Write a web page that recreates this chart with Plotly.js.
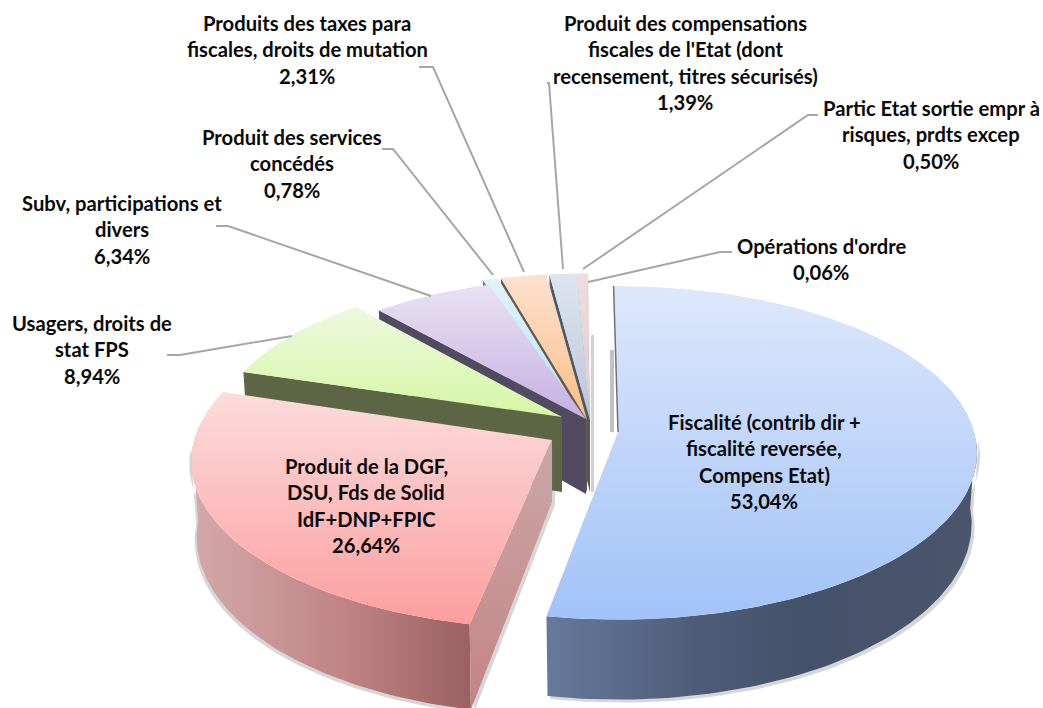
<!DOCTYPE html>
<html><head><meta charset="utf-8">
<script src="https://cdn.plot.ly/plotly-3.0.1.min.js"></script>
<style>html,body{margin:0;padding:0;background:#fff}#c{width:1043px;height:708px}</style>
</head><body><div id="c"></div>
<script>
// ---- data ----
const labels = [
 "Fiscalité (contrib dir +<br>fiscalité reversée,<br>Compens Etat)",
 "Produit de la DGF,<br>DSU, Fds de Solid<br>IdF+DNP+FPIC",
 "Usagers, droits de<br>stat FPS",
 "Subv, participations et<br>divers",
 "Produit des services<br>concédés",
 "Produits des taxes para<br>fiscales, droits de mutation",
 "Produit des compensations<br>fiscales de l'Etat (dont<br>recensement, titres sécurisés)",
 "Partic Etat sortie empr à<br>risques, prdts excep",
 "Opérations d'ordre"
];
const values = [53.04, 26.64, 8.94, 6.34, 0.78, 2.31, 1.39, 0.50, 0.06];
const valueText = ["53,04%","26,64%","8,94%","6,34%","0,78%","2,31%","1,39%","0,50%","0,06%"];

// ---- styles ----
const topTop = ["#dde8fb","#fbdcdc","#eef8e0","#e8e2f3","#e0f3f9","#fbe1cf","#dfe5ee","#ecdfde","#ecdfde"];
const topBot = ["#a2c2f8","#fd9e9e","#d5f7a3","#c4b0e3","#b0e6f6","#fbbf85","#b9c6da","#e5c8c6","#e5c8c6"];
const wallCol = ["#6a7385","#c9a3a3","#5c6644","#524a60","#5f7f88","#6b5a4a","#4f5a68","#8b7f7f","#8b7f7f"];
const apexX = [618,552,562,586,584,587,590,590,590];
const apexY = [432,440,417,419,420,420,420,420,420];
const rimK  = [.995,1,.965,.96,1,1,1,1,1];
const turn  = [-.5,1,.5,0,0,0,0,0,0];
const depth = [70,75,75,75,72,72,72,72,72];
const apexDepth = [70,62,75,75,72,72,72,72,72];
const labelX = [764,366,92,122,292,307,685,931,821];
const labelY = [422,466,323,203,137,23,23,108,246];
const LINE = 26.3;
const leaderX = [null,null,[167,180,292],[216,228,431],[382,393,493],[419,433,524],[547,549,563],[818,808,583],[732,720,588]];
const leaderY = [null,null,[355,355,336],[226,226,296],[149,149,275],[67,67,272],[83,83,269],[115,115,269],[252,252,282]];

// ---- geometry: values -> angles -> projected pie ----
const R = 358, RK = 165, P = .125, ROT = -0.3;
const total = values.reduce((a,b)=>a+b,0);
let acc = 0;
const a1 = [], a2 = [];
values.forEach((v,i)=>{a1.push(acc/total*360+ROT+turn[i]); acc+=v; a2.push(acc/total*360+ROT+turn[i]);});
function rim(i,a){
  const t=a*Math.PI/180, X=Math.sin(t), Y=Math.cos(t), s=1/(1+P*Y);
  return {dx:R*rimK[i]*s*X, dy:-RK*rimK[i]*s*Y, s};
}
function arc(i,b,e,n){const o=[];for(let k=0;k<=n;k++)o.push(b+(e-b)*k/n);return o;}
function poly(xs,ys,grad){
  return {type:'scatter',mode:'lines',x:xs,y:ys,fill:'toself',line:{width:0,color:'rgba(0,0,0,0)'},
    hoverinfo:'skip',showlegend:false,fillgradient:grad};
}
const vgrad=(c0,c1,s,e)=>({type:'vertical',start:s,stop:e,colorscale:[[0,c0],[1,c1]]});
const hgrad=(stops,s,e)=>({type:'horizontal',start:s,stop:e,colorscale:stops});
const traces=[];
function flat(xs,ys,color){traces.push({type:'scatter',mode:'lines',x:xs,y:ys,fill:'toself',fillcolor:color,line:{width:0,color:'rgba(0,0,0,0)'},hoverinfo:'skip',showlegend:false});}

function radialWall(i,a){
  const r=rim(i,a), cx=apexX[i], cy=apexY[i];
  const xs=[cx,cx+r.dx,cx+r.dx*.985,cx], ys=[cy,cy+r.dy,cy+r.dy+depth[i]*r.s,cy+apexDepth[i]];
  return [xs.concat(cx),ys.concat(cy)];
}
function rimWall(i,b,e){
  const cx=apexX[i], cy=apexY[i], as=arc(i,b,e,80);
  const xs=[],ys=[];
  as.forEach(a=>{const r=rim(i,a);xs.push(cx+r.dx);ys.push(cy+r.dy);});
  as.slice().reverse().forEach(a=>{const r=rim(i,a);xs.push(cx+r.dx*.985);ys.push(cy+r.dy+depth[i]*r.s);});
  xs.push(xs[0]);ys.push(ys[0]);
  return [xs,ys];
}
function topFace(i){
  const cx=apexX[i], cy=apexY[i], xs=[cx], ys=[cy];
  arc(i,a1[i],a2[i],Math.max(4,Math.ceil((a2[i]-a1[i])*1.5))).forEach(a=>{const r=rim(i,a);xs.push(cx+r.dx);ys.push(cy+r.dy);});
  xs.push(cx);ys.push(cy);
  return [xs,ys];
}

// faint cast shadows in the gap between the slices
const gapX = apexX[8];
flat([gapX+1,gapX+4,gapX+4,gapX+1],[apexY[8]-85,apexY[8]-85,apexY[8]+72,apexY[8]+72],'rgba(120,120,120,.35)');
const gapB = apexX[0]-3;
flat([gapB-5,gapB-1,gapB-1,gapB-5],[apexY[0]-82,apexY[0]-82,apexY[0],apexY[0]],'rgba(120,120,120,.45)');

// back-to-front painting
[8,7,6,5,4,3,2,1,0].forEach(i=>{
  const [tx,ty]=topFace(i);
  const minY=Math.min(...ty), maxY=Math.max(...ty);
  if(i===0){
    const [sx,sy]=rimWall(0,92,a2[0]);
    flat(sx.map(v=>v+3),sy.map(v=>v+3),'rgba(110,110,110,.28)');
    traces.push(poly(sx,sy,hgrad([[0,'#677a9c'],[.35,'#4d5c78'],[.6,'#44516a'],[1,'#4a566d']],apexX[0]-72,975)));
  } else if(i===1){
    const [sx,sy]=rimWall(1,a1[1],268);
    flat(sx.map(v=>v-2),sy.map(v=>v+3),'rgba(110,110,110,.28)');
    traces.push(poly(sx,sy,hgrad([[0,'#d3a9a9'],[.55,'#c08383'],[1,'#9b6060']],192,472)));
    const [wx,wy]=radialWall(1,a1[1]);
    flat(wx.map(v=>v+3),wy.map(v=>v+3),'rgba(110,110,110,.28)');
    traces.push(poly(wx,wy,vgrad('#cba7a7','#c48484',apexY[1],708)));
  } else {
    const [wx,wy]=radialWall(i,a1[i]);
    flat(wx,wy,wallCol[i]);
  }
  traces.push(poly(tx,ty,vgrad(topTop[i],topBot[i],minY,maxY)));
  if(i===0){
    const r=rim(0,a1[0]);
    traces.push({type:'scatter',mode:'lines',x:[apexX[0],apexX[0]+r.dx],y:[apexY[0],apexY[0]+r.dy],line:{color:wallCol[0],width:1.5},hoverinfo:'skip',showlegend:false});
  }
});

// leader lines
leaderX.forEach((lx,i)=>{ if(lx) traces.push({type:'scatter',mode:'lines',x:lx,y:leaderY[i],line:{color:'#a6a6a6',width:2},hoverinfo:'skip',showlegend:false}); });

// labels (one annotation per line so the line pitch follows the picture)
const annotations=[];
labels.forEach((t,i)=>{
  t.split('<br>').concat(valueText[i]).forEach((ln,k)=>{
    annotations.push({x:labelX[i],y:labelY[i]+k*LINE,xref:'x',yref:'y',text:ln,showarrow:false,xanchor:'center',yanchor:'middle',
      font:{family:'Lato, "Open Sans", sans-serif',size:20.2,color:'#0a0a0a',weight:700}});
  });
});

Plotly.newPlot('c',traces,{
  width:1043,height:708,margin:{l:0,r:0,t:0,b:0,pad:0},paper_bgcolor:'#fff',plot_bgcolor:'#fff',showlegend:false,
  xaxis:{range:[0,1043],visible:false,fixedrange:true},
  yaxis:{range:[708,0],visible:false,fixedrange:true},
  annotations
},{displayModeBar:false,staticPlot:true});
</script></body></html>
